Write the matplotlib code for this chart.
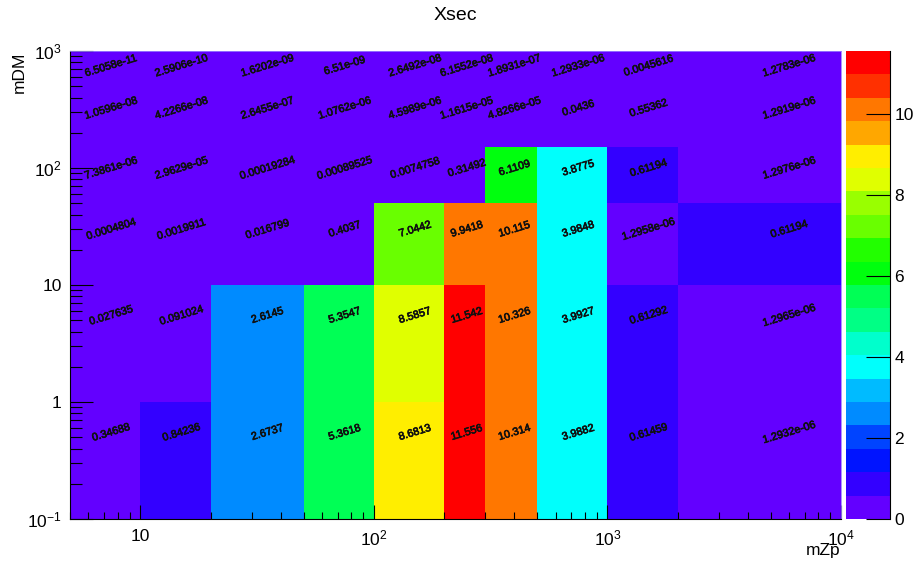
import colorsys
import numpy as np
import matplotlib
matplotlib.use("Agg")
import matplotlib.pyplot as plt
from matplotlib import colors, ticker
import matplotlib.patheffects as pe

# bin edges (mZp on x, mDM on y)
mzp_edges = [5, 10, 20, 50, 100, 200, 300, 500, 1000, 2000, 10000]
mdm_edges = [0.1, 1, 10, 50, 150, 500, 1000]

# cross sections, one list per mDM row (bottom to top), one value per mZp bin
xsec_row0 = [0.34688, 0.84236, 2.6737, 5.3618, 8.6813, 11.556, 10.314, 3.9882, 0.61459, 1.2932e-06]
xsec_row1 = [0.027635, 0.091024, 2.6145, 5.3547, 8.5857, 11.542, 10.326, 3.9927, 0.61292, 1.2965e-06]
xsec_row2 = [0.0004804, 0.0019911, 0.016799, 0.4037, 7.0442, 9.9418, 10.115, 3.9848, 1.2958e-06, 0.61194]
xsec_row3 = [7.3861e-06, 2.9629e-05, 0.00019284, 0.00089525, 0.0074758, 0.31492, 6.1109, 3.8775, 0.61194, 1.2976e-06]
xsec_row4 = [1.0596e-08, 4.2266e-08, 2.6455e-07, 1.0762e-06, 4.5989e-06, 1.1615e-05, 4.8266e-05, 0.0436, 0.55362, 1.2919e-06]
xsec_row5 = [6.5058e-11, 2.5906e-10, 1.6202e-09, 6.51e-09, 2.6492e-08, 6.1552e-08, 1.8931e-07, 1.2933e-06, 0.0045616, 1.2783e-06]

cbar_ticks = [0, 2, 4, 6, 8, 10]


def root_palette(ndiv=20):
    # ROOT "pretty palette" (violet -> red), sampled for ndiv contour levels
    pretty = []
    for i in range(49):
        hue = 280 - (i + 1) * (280 / 50.)
        pretty.append(colorsys.hls_to_rgb(hue / 360., 0.5, 1.0))
    pretty.append((1.0, 0.0, 0.0))
    out = []
    for k in range(ndiv):
        out.append(pretty[int((k + 0.99) * 50 / ndiv)])
    return out


def main():
    plt.rcParams['font.family'] = ['Liberation Sans', 'DejaVu Sans']
    plt.rcParams['mathtext.fontset'] = 'custom'
    plt.rcParams['mathtext.rm'] = 'Liberation Sans'
    plt.rcParams['mathtext.it'] = 'Liberation Sans'

    z = np.array([xsec_row0, xsec_row1, xsec_row2, xsec_row3, xsec_row4, xsec_row5])
    zmax = z.max()
    ndiv = 20
    cmap = colors.ListedColormap(root_palette(ndiv))
    norm = colors.BoundaryNorm(np.linspace(0, zmax, ndiv + 1), ndiv)

    fig = plt.figure(figsize=(9.18, 5.64), dpi=100)
    ax = fig.add_axes([70/918., 1 - 519/564., 771/918., 468/564.])
    cax = fig.add_axes([846/918., 1 - 519/564., 44/918., 468/564.])

    mesh = ax.pcolormesh(mzp_edges, mdm_edges, z, cmap=cmap, norm=norm)
    ax.set_xscale('log')
    ax.set_yscale('log')
    ax.set_xlim(mzp_edges[0], mzp_edges[-1])
    ax.set_ylim(mdm_edges[0], mdm_edges[-1])

    # text at linear bin centres, like ROOT's TEXT option
    for j in range(len(mdm_edges) - 1):
        yc = 0.5 * (mdm_edges[j] + mdm_edges[j + 1])
        for i in range(len(mzp_edges) - 1):
            xc = 0.5 * (mzp_edges[i] + mzp_edges[i + 1])
            ax.text(xc, yc, '%g' % z[j, i], ha='center', va='center', rotation=17,
                    rotation_mode='anchor', fontsize=7.8, color='#111111',
                    path_effects=[pe.withStroke(linewidth=0.5, foreground='#111111')])

    ax.xaxis.set_major_locator(ticker.FixedLocator([10, 100, 1000, 10000]))
    ax.xaxis.set_major_formatter(ticker.FixedFormatter(['10', '$10^{2}$', '$10^{3}$', '$10^{4}$']))
    ax.yaxis.set_major_locator(ticker.FixedLocator([0.1, 1, 10, 100, 1000]))
    ax.yaxis.set_major_formatter(ticker.FixedFormatter(['$10^{-1}$', '1', '10', '$10^{2}$', '$10^{3}$']))
    ax.xaxis.set_minor_locator(ticker.LogLocator(base=10, subs=range(2, 10), numticks=20))
    ax.yaxis.set_minor_locator(ticker.LogLocator(base=10, subs=range(2, 10), numticks=20))
    ax.xaxis.set_minor_formatter(ticker.NullFormatter())
    ax.yaxis.set_minor_formatter(ticker.NullFormatter())

    ax.tick_params(axis='x', which='major', direction='in', length=10, width=0.8, labelsize=12.5, pad=7)
    ax.tick_params(axis='x', which='minor', direction='in', length=5, width=0.8)
    ax.tick_params(axis='y', which='major', direction='in', length=16.5, width=0.8, labelsize=12.5, pad=6)
    ax.tick_params(axis='y', which='minor', direction='in', length=8.3, width=0.8)
    for s in ['top', 'right']:
        ax.spines[s].set_color('#9a80ff')
        ax.spines[s].set_linewidth(0.6)
    for s in ['bottom', 'left']:
        ax.spines[s].set_linewidth(0.8)

    cb = fig.colorbar(mesh, cax=cax, ticks=cbar_ticks)
    cb.outline.set_visible(False)
    cax.yaxis.set_ticks_position('right')
    cax.tick_params(axis='y', which='major', direction='in', length=17, width=0.8, labelsize=12.5, pad=3)
    cax.minorticks_off()
    cax.plot([1, 1], [0, 1], transform=cax.transAxes, color='k', lw=0.8, clip_on=False)

    fig.text(455/918., 1 - 16/564., 'Xsec', ha='center', va='center', fontsize=14)
    fig.text(840/918., 1 - 550/564., 'mZp', ha='right', va='center', fontsize=12.5)
    fig.text(19/918., 1 - 52/564., 'mDM', ha='center', va='top', rotation=90, fontsize=12.5)

    fig.savefig('out.png', dpi=100)


if __name__ == "__main__":
    main()
